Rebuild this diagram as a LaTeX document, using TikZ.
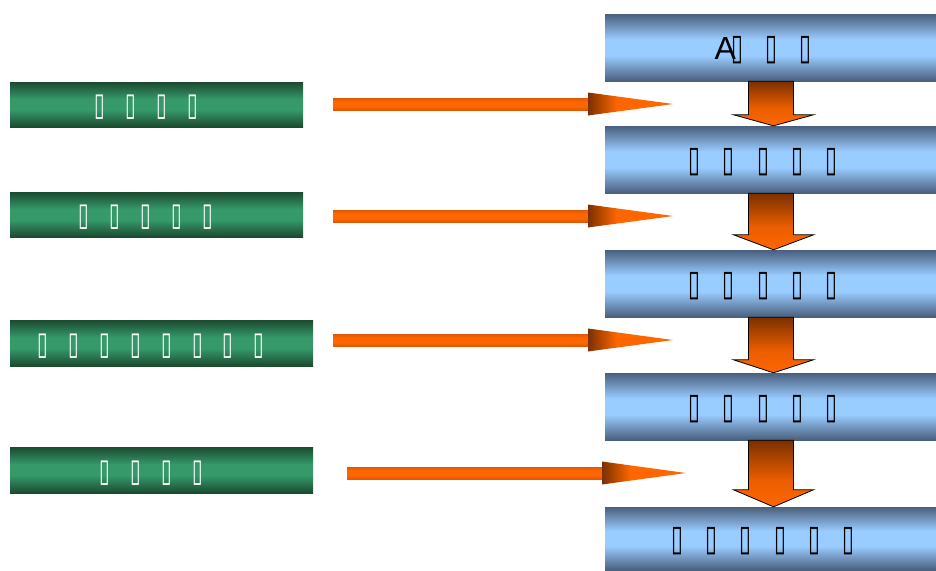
\documentclass[tikz,border=0pt]{standalone}
\usepackage{fontspec}
\usepackage{graphicx}
\setmainfont{Liberation Sans}
\newfontfamily\dv{DejaVu Sans}
\usetikzlibrary{calc}
\definecolor{bdark}{HTML}{4A5F7D}
\definecolor{blight}{HTML}{99CCFF}
\definecolor{gdark}{HTML}{1B4A30}
\definecolor{glight}{HTML}{35996A}
\definecolor{aor}{HTML}{FF6600}
\definecolor{abr}{HTML}{7A3000}
\definecolor{aedge}{HTML}{E05800}
\pgfdeclareverticalshading{bluebarsh}{100bp}{color(0bp)=(bdark); color(25bp)=(bdark); color(44bp)=(blight); color(56bp)=(blight); color(75bp)=(bdark); color(100bp)=(bdark)}
\pgfdeclareverticalshading{greenbarsh}{100bp}{color(0bp)=(gdark); color(25bp)=(gdark); color(44bp)=(glight); color(56bp)=(glight); color(75bp)=(gdark); color(100bp)=(gdark)}
\pgfdeclareverticalshading{shaftsh}{100bp}{color(0bp)=(aedge); color(25bp)=(aedge); color(40bp)=(aor); color(60bp)=(aor); color(75bp)=(aedge); color(100bp)=(aedge)}
\pgfdeclarehorizontalshading{headsh}{100bp}{color(0bp)=(abr); color(25bp)=(abr); color(42bp)=(aor); color(100bp)=(aor)}
\pgfdeclareverticalshading{downsh}{100bp}{color(0bp)=(aor); color(25bp)=(aor); color(45bp)=(aor!85!abr); color(75bp)=(abr); color(100bp)=(abr)}
\newcommand\tfb{\scalebox{0.6}[1]{\dv\bfseries ▯}}
\newcommand\lowr[1]{\raisebox{0pt}[\dimexpr\height+6pt\relax][\depth]{#1}}
\newcommand\bsep{\hspace{22.4pt}}
\newcommand\gsep{\hspace{20.3pt}}
\newcommand\bend{\kern15pt}
\newcommand\gend{\kern21pt}
\tikzset{
  bbar/.style={rectangle, inner sep=0pt, minimum width=331pt, minimum height=67pt, shade, shading=bluebarsh, text=black, font=\fontsize{36}{36}\selectfont},
  gbar/.style={rectangle, inner sep=0pt, minimum width=293pt, minimum height=45pt, shade, shading=greenbarsh, text=white, font=\fontsize{32}{32}\selectfont},
  darr/.style={draw=black, line width=0.8pt, shade, shading=downsh},
  rshaft/.style={shade, shading=shaftsh},
  rhead/.style={shade, shading=headsh}
}
\begin{document}
\begin{tikzpicture}[x=1pt,y=-1pt]
\useasboundingbox (0,0) rectangle (936,570);
% blue bars
\node[bbar] (b1) at (770.5,47.5) {\lowr{{\fontsize{32}{32}\selectfont A}\kern-4pt\tfb\hspace{22pt}\tfb\hspace{22pt}\tfb}\bend};
\node[bbar] (b2) at (770.5,159.5) {\lowr{\tfb\bsep\tfb\bsep\tfb\bsep\tfb\bsep\tfb}\bend};
\node[bbar] (b3) at (770.5,283.5) {\lowr{\tfb\bsep\tfb\bsep\tfb\bsep\tfb\bsep\tfb}\bend};
\node[bbar] (b4) at (770.5,406.5) {\lowr{\tfb\bsep\tfb\bsep\tfb\bsep\tfb\bsep\tfb}\bend};
\node[bbar, minimum height=63pt] (b5) at (770.5,538.5) {\lowr{\tfb\bsep\tfb\bsep\tfb\bsep\tfb\bsep\tfb\bsep\tfb}\bend};
% green bars
\node[gbar] (g1) at (156.5,104.5) {\lowr{\tfb\gsep\tfb\gsep\tfb\gsep\tfb}\gend};
\node[gbar] (g2) at (156.5,214.5) {\lowr{\tfb\gsep\tfb\gsep\tfb\gsep\tfb\gsep\tfb}\gend};
\node[gbar, minimum width=303pt, minimum height=46pt] (g3) at (161.5,343) {\lowr{\tfb\gsep\tfb\gsep\tfb\gsep\tfb\gsep\tfb\gsep\tfb\gsep\tfb\gsep\tfb}\gend};
\node[gbar, minimum width=303pt, minimum height=46pt] (g4) at (161.5,470) {\lowr{\tfb\gsep\tfb\gsep\tfb\gsep\tfb}\gend};
% down arrows
\foreach \a/\b/\h in {b1/b2/11, b2/b3/15, b3/b4/13, b4/b5/17}{
  \path[darr] ($(\a.south)+(-22,0)$) -- ($(\a.south)+(23,0)$) -- ($(\b.north)+(23,-\h)$) -- ($(\b.north)+(43,-\h)$) -- ($(\b.north)+(3,0)$) -- ($(\b.north)+(-37,-\h)$) -- ($(\b.north)+(-22,-\h)$) -- cycle;
}
% right arrows
\foreach \g/\sx/\hx/\tx/\y in {g1/333/588/673/104, g2/333/588/673/216, g3/333/588/673/340, g4/347/602/686/473}{
  \coordinate (s-\g) at (\sx,\y);
  \coordinate (t-\g) at (\tx,\y);
  \path[rshaft] (s-\g) ++(0,-6) rectangle (\hx+1,\y+6);
  \path[rhead] (\hx,\y-11.5) -- (t-\g) -- (\hx,\y+11.5) -- cycle;
}
\end{tikzpicture}
\end{document}
